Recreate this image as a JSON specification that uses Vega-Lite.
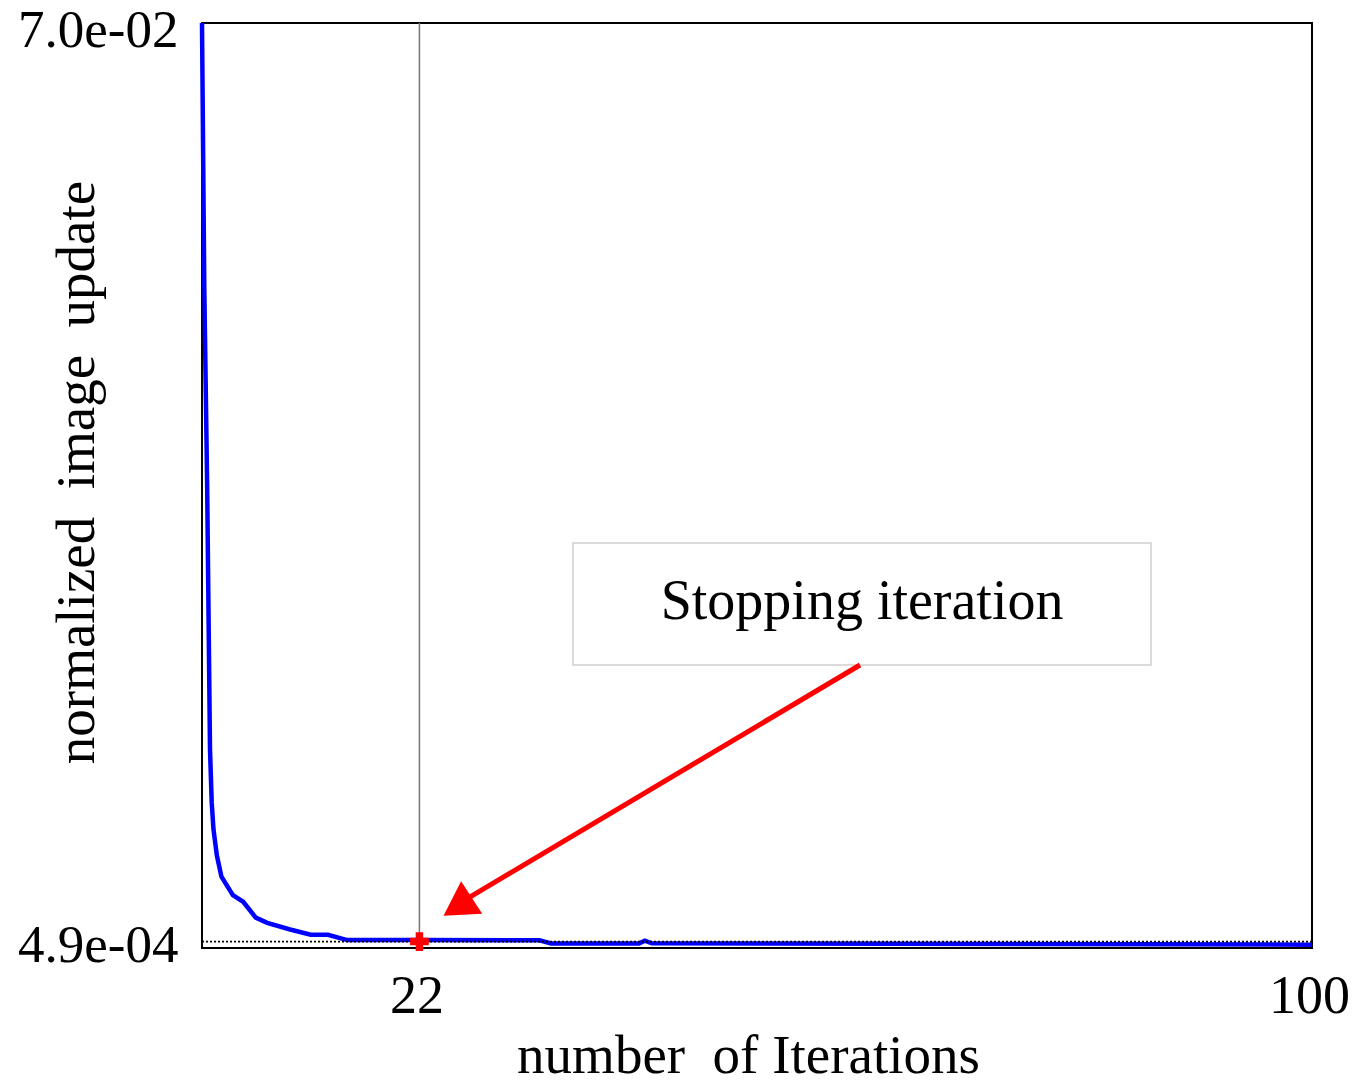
{
  "$schema": "https://vega.github.io/schema/vega-lite/v6.json",
  "width": 1110,
  "height": 925,
  "autosize": {"type": "none"},
  "padding": {"left": 202, "top": 23, "right": 57, "bottom": 135},
  "background": "white",
  "config": {
    "font": "Liberation Serif",
    "view": {"stroke": "black", "strokeWidth": 2},
    "axis": {
      "domain": false, "grid": false, "ticks": false,
      "labelFont": "Liberation Serif", "titleFont": "Liberation Serif",
      "labelColor": "black", "titleColor": "black", "titleFontWeight": "normal"
    }
  },
  "datasets": {
    "curve": [
      {"x": 3.0, "y": 0.0700},
      {"x": 3.2, "y": 0.0500},
      {"x": 3.45, "y": 0.0350},
      {"x": 3.7, "y": 0.0150},
      {"x": 3.85, "y": 0.0110},
      {"x": 4.0, "y": 0.0090},
      {"x": 4.3, "y": 0.0070},
      {"x": 4.7, "y": 0.0054},
      {"x": 5.7, "y": 0.0040},
      {"x": 6.6, "y": 0.0035},
      {"x": 7.7, "y": 0.0023},
      {"x": 8.7, "y": 0.0019},
      {"x": 10.7, "y": 0.0014},
      {"x": 12.5, "y": 0.0010},
      {"x": 14.0, "y": 0.0010},
      {"x": 15.7, "y": 0.0006},
      {"x": 22, "y": 0.0006},
      {"x": 32.5, "y": 0.00058},
      {"x": 33.5, "y": 0.00035},
      {"x": 41.2, "y": 0.00035},
      {"x": 41.7, "y": 0.00055},
      {"x": 42.3, "y": 0.00035},
      {"x": 100, "y": 0.00025}
    ]
  },
  "encoding": {
    "x": {
      "field": "x", "type": "quantitative",
      "scale": {"domain": [3, 100], "nice": false, "zero": false},
      "axis": {
        "values": [22, 100], "labelFontSize": 54, "labelPadding": 21, "labelFlush": false, "labelOffset": -3,
        "title": "number\u00a0 of Iterations", "titleFontSize": 55,
        "titleX": 546, "titleY": 124, "titleBaseline": "alphabetic", "titleAlign": "center"
      }
    },
    "y": {
      "field": "y", "type": "quantitative",
      "scale": {"domain": [0, 0.07], "nice": false, "zero": false},
      "axis": {
        "values": [0.00049, 0.07],
        "labelExpr": "datum.value > 0.01 ? '7.0e-02' : '4.9e-04'",
        "labelFontSize": 53, "labelPadding": 24, "labelBaseline": "middle", "labelFlush": false,
        "labelOffset": {"condition": {"test": "datum.value > 0.01", "value": 7}, "value": 4},
        "title": "normalized\u00a0 image\u00a0 update", "titleFontSize": 55, "titleAngle": -90,
        "titleX": -126, "titleY": 449, "titleAlign": "center", "titleBaseline": "middle"
      }
    }
  },
  "layer": [
    {
      "data": {"values": [{"x": 35.42, "x2": 85.93, "y": 0.03065, "y2": 0.021417}]},
      "mark": {"type": "rect", "fill": "white", "stroke": "#cfcfcf", "strokeWidth": 1.5},
      "encoding": {"x2": {"field": "x2"}, "y2": {"field": "y2"}}
    },
    {
      "data": {"values": [{"x": 60.68, "y": 0.02619, "label": "Stopping iteration"}]},
      "mark": {"type": "text", "font": "Liberation Serif", "fontSize": 56, "align": "center", "baseline": "middle", "color": "black"},
      "encoding": {"text": {"field": "label"}}
    },
    {
      "data": {"values": [{"x": 22, "y": 0, "y2": 0.07}]},
      "mark": {"type": "rule", "color": "#777777", "strokeWidth": 1.5},
      "encoding": {"y2": {"field": "y2"}}
    },
    {
      "data": {"name": "curve"},
      "mark": {"type": "line", "color": "#0000ff", "strokeWidth": 4.5}
    },
    {
      "data": {"values": [{"x": 3, "x2": 100, "y": 0.00049}]},
      "mark": {"type": "rule", "color": "black", "strokeWidth": 1.8, "strokeDash": [2, 2]},
      "encoding": {"x2": {"field": "x2"}}
    },
    {
      "data": {"values": [{"x": 60.5, "y": 0.021417, "x2": 26.25, "y2": 0.00378}]},
      "mark": {"type": "rule", "color": "#ff0000", "strokeWidth": 5},
      "encoding": {"x2": {"field": "x2"}, "y2": {"field": "y2"}}
    },
    {
      "data": {"values": [{"x": 25.72, "y": 0.00378}]},
      "mark": {"type": "point", "shape": "triangle-up", "size": 1500, "filled": true, "color": "#ff0000", "opacity": 1, "angle": -3}
    },
    {
      "data": {"values": [{"x": 22, "y": 0.00049}]},
      "mark": {"type": "point", "shape": "cross", "size": 350, "filled": true, "color": "#ff0000", "opacity": 1}
    }
  ]
}
